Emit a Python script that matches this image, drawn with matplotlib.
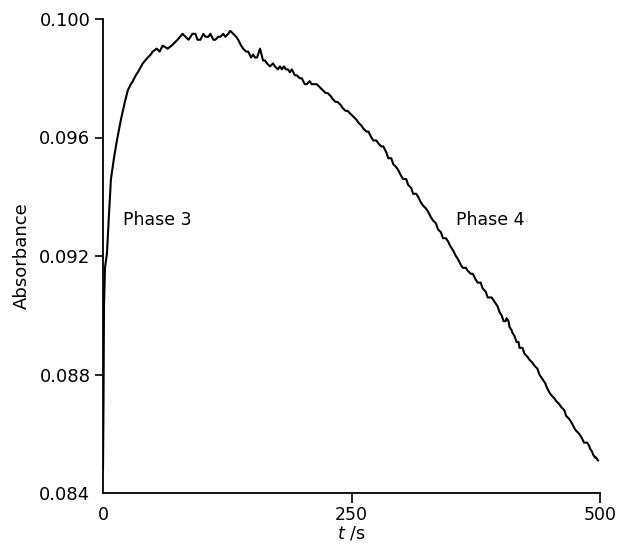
import matplotlib
matplotlib.use("Agg")
import matplotlib.pyplot as plt

# (time in s, absorbance)
rise = [(0.0, 0.0848), (0.5, 0.0870), (1.0, 0.0903), (2.0, 0.0916), (4.0, 0.0921),
        (6.0, 0.0934), (8.0, 0.0946), (11.0, 0.0953), (14.0, 0.0959), (18.0, 0.0966),
        (22.0, 0.0972), (25.0, 0.0976), (28.0, 0.0978), (30.0, 0.0979), (33.0, 0.0981),
        (35.0, 0.0982), (40.0, 0.0985), (45.0, 0.0987), (48.0, 0.0988), (50.0, 0.0989),
        (54.0, 0.0990), (57.0, 0.0989), (60.0, 0.0991), (65.0, 0.0990), (69.0, 0.0991),
        (72.0, 0.0992), (75.0, 0.0993), (80.0, 0.0995), (83.0, 0.0994), (86.0, 0.0993)]
plateau = [(90.0, 0.0995), (93.0, 0.0995), (95.0, 0.0993), (98.0, 0.0993), (101.0, 0.0995),
           (103.0, 0.0994), (106.0, 0.0994), (108.0, 0.0995), (111.0, 0.0993), (113.0, 0.0993),
           (116.0, 0.0994), (118.0, 0.0994), (121.0, 0.0995), (123.0, 0.0994), (126.0, 0.0995),
           (128.0, 0.0996), (131.0, 0.0995), (134.0, 0.0994), (136.0, 0.0993), (139.0, 0.0991),
           (141.0, 0.0990), (144.0, 0.0989), (146.0, 0.0989), (149.0, 0.0987), (151.0, 0.0988),
           (153.0, 0.0987), (155.0, 0.0987), (158.0, 0.0990), (161.0, 0.0986), (163.0, 0.0986)]
decay1 = [(165.0, 0.0985), (168.0, 0.0984), (171.0, 0.0985), (173.0, 0.0984), (176.0, 0.0983),
          (178.0, 0.0984), (180.0, 0.0983), (182.0, 0.0984), (184.0, 0.0983), (186.0, 0.0983),
          (188.0, 0.0982), (190.0, 0.0983), (193.0, 0.0981), (195.0, 0.0981), (198.0, 0.0980),
          (200.0, 0.0980), (203.0, 0.0978), (205.0, 0.0978), (208.0, 0.0979), (210.0, 0.0978),
          (213.0, 0.0978), (215.0, 0.0978), (218.0, 0.0977), (221.0, 0.0976), (224.0, 0.0975),
          (226.0, 0.0975), (229.0, 0.0974), (231.0, 0.0973), (234.0, 0.0972), (236.0, 0.0972),
          (239.0, 0.0971), (241.0, 0.0970), (244.0, 0.0969), (246.0, 0.0969), (249.0, 0.0968),
          (252.0, 0.0967), (255.0, 0.0966), (257.0, 0.0965), (260.0, 0.0964), (262.0, 0.0963)]
decay2 = [(265.0, 0.0962), (267.0, 0.0962), (270.0, 0.0960), (272.0, 0.0959), (275.0, 0.0959),
          (277.0, 0.0958), (280.0, 0.0957), (282.0, 0.0957), (285.0, 0.0955), (287.0, 0.0953),
          (290.0, 0.0953), (292.0, 0.0951), (295.0, 0.0950), (297.0, 0.0949), (300.0, 0.0947),
          (302.0, 0.0946), (305.0, 0.0946), (307.0, 0.0944), (310.0, 0.0943), (312.0, 0.0941),
          (315.0, 0.0941), (317.0, 0.0940), (320.0, 0.0938), (322.0, 0.0937), (325.0, 0.0936),
          (327.0, 0.0935), (330.0, 0.0933), (332.0, 0.0932), (335.0, 0.0931), (337.0, 0.0929),
          (340.0, 0.0928), (342.0, 0.0926), (345.0, 0.0926), (347.0, 0.0925), (350.0, 0.0923),
          (352.0, 0.0922), (355.0, 0.0920), (357.0, 0.0919), (360.0, 0.0917), (362.0, 0.0916)]
decay3 = [(365.0, 0.0916), (367.0, 0.0915), (370.0, 0.0914), (372.0, 0.0914), (375.0, 0.0912),
          (377.0, 0.0911), (380.0, 0.0911), (382.0, 0.0909), (385.0, 0.0908), (387.0, 0.0906),
          (389.0, 0.0906), (391.0, 0.0906), (393.0, 0.0905), (395.0, 0.0904), (397.0, 0.0903),
          (399.0, 0.0901), (401.0, 0.0900), (403.0, 0.0898), (405.0, 0.0898), (406.0, 0.0899),
          (408.0, 0.0898), (409.0, 0.0896), (411.0, 0.0895), (412.0, 0.0894), (414.0, 0.0893),
          (416.0, 0.0891), (418.0, 0.0891), (419.0, 0.0889), (422.0, 0.0889), (424.0, 0.0887),
          (427.0, 0.0886), (429.0, 0.0885), (432.0, 0.0884), (434.0, 0.0883), (437.0, 0.0882),
          (439.0, 0.0880), (441.0, 0.0879), (443.0, 0.0878), (445.0, 0.0877), (446.0, 0.0876)]
decay4 = [(449.0, 0.0874), (451.0, 0.0873), (454.0, 0.0872), (456.0, 0.0871), (459.0, 0.0870),
          (461.0, 0.0869), (464.0, 0.0868), (466.0, 0.0866), (469.0, 0.0865), (471.0, 0.0864),
          (474.0, 0.0862), (476.0, 0.0861), (479.0, 0.0860), (481.0, 0.0859), (484.0, 0.0857),
          (487.0, 0.0857), (489.0, 0.0856), (490.0, 0.0855), (492.0, 0.0854), (493.0, 0.0853),
          (495.0, 0.0852), (496.0, 0.0852), (498.0, 0.0851)]

xticks = [0, 250, 500]
xticklabels = ["0", "250", "500"]
yticks = [0.084, 0.088, 0.092, 0.096, 0.100]
yticklabels = ["0.084", "0.088", "0.092", "0.096", "0.100"]
annotations = [("Phase 3", 20, 0.0932), ("Phase 4", 355, 0.0932)]

trace = rise + plateau + decay1 + decay2 + decay3 + decay4
t = [p[0] for p in trace]
absorbance = [p[1] for p in trace]

plt.rcParams['font.family'] = ['DejaVu Sans']

W, H = 619, 549
fig = plt.figure(figsize=(W / 100, H / 100), dpi=100)
ax = fig.add_axes([103 / W, 1 - 493 / H, (600 - 103) / W, (493 - 19) / H])

ax.plot(t, absorbance, color='black', lw=1.5, solid_joinstyle='round')

ax.set_xlim(0, 500)
ax.set_ylim(0.084, 0.100)
ax.set_xticks(xticks)
ax.set_xticklabels(xticklabels, fontsize=12.5)
ax.set_yticks(yticks)
ax.set_yticklabels(yticklabels, fontsize=13)

for s in ['top', 'right']:
    ax.spines[s].set_visible(False)
for s in ['left', 'bottom']:
    ax.spines[s].set_linewidth(1.3)

ax.tick_params(axis='y', direction='out', length=6, width=1.2, pad=3)
ax.tick_params(axis='x', direction='out', length=7, width=1.2, pad=2)
ax.yaxis.get_major_ticks()[0].tick1line.set_visible(False)
ax.xaxis.get_major_ticks()[0].tick1line.set_visible(False)

ax.set_ylabel("Absorbance", fontsize=13, labelpad=6)
ax.set_xlabel(r"$\mathit{t}$ /s", fontsize=12.5, labelpad=1)

for txt, x, y in annotations:
    ax.text(x, y, txt, fontsize=12.5, ha='left', va='center')

fig.savefig("out.png", dpi=100)
